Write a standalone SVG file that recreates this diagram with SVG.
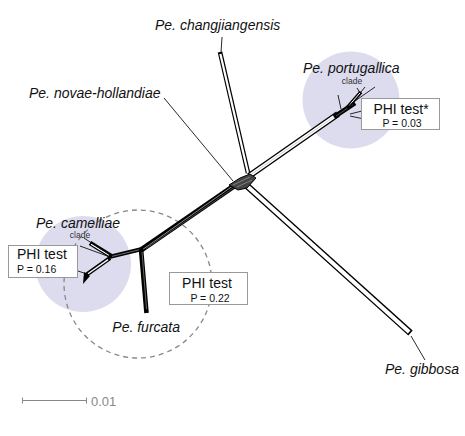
<svg xmlns="http://www.w3.org/2000/svg" width="465" height="436" viewBox="0 0 465 436">
<style>
.lbl{font-family:"Liberation Sans",Arial,sans-serif;font-style:italic;font-size:14px;fill:#111}
.clade{font-family:"Liberation Sans",Arial,sans-serif;font-size:8.5px;fill:#333;text-anchor:middle}
.phi{font-family:"Liberation Sans",Arial,sans-serif;font-size:14px;fill:#111}
.pv{font-family:"Liberation Sans",Arial,sans-serif;font-size:10.5px;fill:#111}
.box{fill:#fff;stroke:#999;stroke-width:1}
.clade-bg{fill:#dcdcee}
.thin{stroke:#111;stroke-width:0.9;fill:none}
.blk{stroke:#000;fill:none;stroke-linecap:butt}
.wht{stroke:#fff;fill:none;stroke-linecap:butt}
.lite{stroke:#bbb;fill:none;stroke-width:0.7}
</style>
<rect width="465" height="436" fill="#fff"/>

<g id="clade-portugallica-bg"><circle class="clade-bg" cx="351" cy="100" r="48.5"/></g>
<g id="clade-camelliae-bg"><circle class="clade-bg" cx="83" cy="264" r="48"/></g>
<g id="furcata-group"><circle cx="138" cy="284" r="74" fill="none" stroke="#888" stroke-width="1.3" stroke-dasharray="5 4"/></g>

<g id="connectors">
  <line class="thin" x1="222" y1="37" x2="221" y2="53"/>
  <line class="thin" x1="164" y1="98" x2="233" y2="181"/>
  <line class="thin" x1="411" y1="336" x2="425" y2="360"/>

  <line class="blk" x1="220" y1="52" x2="248" y2="173" stroke-width="4.6"/>
  <line class="wht" x1="220.4" y1="54" x2="248" y2="173" stroke-width="2.2"/>

  <line class="blk" x1="246" y1="185" x2="410.5" y2="333" stroke-width="6.6"/>
  <line class="wht" x1="246" y1="185" x2="409.2" y2="331.9" stroke-width="4"/>

  <line class="blk" x1="249" y1="176" x2="338" y2="114" stroke-width="6.2"/>
  <line class="wht" x1="249" y1="176" x2="338" y2="114" stroke-width="3.4"/>
  <line class="lite" x1="249" y1="176" x2="338" y2="114"/>

  <line class="blk" x1="234" y1="186" x2="141" y2="250" stroke-width="5.6"/>
  <line x1="232" y1="186.5" x2="143" y2="249.3" stroke="#ccc" stroke-width="0.7"/>
  <line x1="234" y1="187.6" x2="146" y2="248.6" stroke="#888" stroke-width="0.5"/>

  <polygon points="229,185 240,178 250,174 256,178 247,188 238,190" fill="#444" stroke="#000" stroke-width="1"/>
  <line x1="233" y1="185" x2="250" y2="177" stroke="#aaa" stroke-width="0.6"/>
  <line x1="237" y1="187" x2="252" y2="180" stroke="#aaa" stroke-width="0.6"/>

  <line class="blk" x1="141" y1="249" x2="146.5" y2="313" stroke-width="4.6"/>
  <line x1="142" y1="252" x2="146.5" y2="309" stroke="#aaa" stroke-width="0.6"/>

  <line class="blk" x1="142" y1="249" x2="109" y2="257" stroke-width="4.2"/>
  <line x1="139" y1="249.8" x2="112" y2="256.4" stroke="#bbb" stroke-width="0.6"/>

  <line class="blk" x1="111" y1="256" x2="90" y2="243" stroke-width="4.5"/>
  <line class="wht" x1="109" y1="255.3" x2="91" y2="244.2" stroke-width="1.2"/>
  <line class="thin" x1="110" y1="255" x2="84" y2="238"/>
  <line class="thin" x1="110" y1="257" x2="80" y2="246"/>
  <line class="blk" x1="110" y1="258" x2="86" y2="275" stroke-width="4"/>
  <line class="wht" x1="108" y1="259.6" x2="88" y2="273.8" stroke-width="1.3"/>
  <line class="thin" x1="87" y1="274" x2="78" y2="271"/>
  <polygon points="84,272 90,276 83,284" fill="#000"/>

  <line class="blk" x1="334" y1="117" x2="355" y2="103" stroke-width="4.6"/>
  <line x1="336" y1="116" x2="353" y2="104.5" stroke="#999" stroke-width="0.6"/>
  <line class="blk" x1="347" y1="108" x2="361" y2="92" stroke-width="3.6"/>
  <line class="wht" x1="349" y1="105.5" x2="360" y2="93" stroke-width="1"/>
  <line class="thin" x1="357" y1="88" x2="360" y2="93"/>
  <line class="thin" x1="365" y1="87" x2="361" y2="92"/>
  <line class="thin" x1="345" y1="108" x2="375" y2="87"/>
  <line class="thin" x1="338" y1="95" x2="341" y2="109"/>
  <line class="thin" x1="350" y1="114" x2="362" y2="111"/>
  <line class="thin" x1="350" y1="116" x2="364" y2="119"/>
</g>

<g id="node-changjiangensis"><text class="lbl" x="155" y="30">Pe. changjiangensis</text></g>
<g id="node-novae-hollandiae"><text class="lbl" x="29" y="98">Pe. novae-hollandiae</text></g>
<g id="node-portugallica">
  <text class="lbl" x="303" y="73">Pe. portugallica</text>
  <text class="clade" x="352" y="84">clade</text>
</g>
<g id="node-camelliae">
  <text class="lbl" x="36" y="228">Pe. camelliae</text>
  <text class="clade" x="80" y="238">clade</text>
</g>
<g id="node-furcata"><text class="lbl" x="180" y="332" text-anchor="end">Pe. furcata</text></g>
<g id="node-gibbosa"><text class="lbl" x="385" y="374">Pe. gibbosa</text></g>

<g id="phi-portugallica">
  <rect class="box" x="361.5" y="98.5" width="78" height="31"/>
  <text class="phi" x="401" y="114" text-anchor="middle">PHI test*</text>
  <text class="pv" x="402" y="127" text-anchor="middle">P = 0.03</text>
</g>
<g id="phi-camelliae">
  <rect class="box" x="8.5" y="245.5" width="69" height="32"/>
  <text class="phi" x="17" y="258.5">PHI test</text>
  <text class="pv" x="17" y="273">P = 0.16</text>
</g>
<g id="phi-furcata">
  <rect class="box" x="169.5" y="272.5" width="78" height="32"/>
  <text class="phi" x="207" y="288" text-anchor="middle">PHI test</text>
  <text class="pv" x="210" y="302" text-anchor="middle">P = 0.22</text>
</g>

<g id="scale-bar" stroke="#888" stroke-width="1">
  <line x1="22" y1="400.5" x2="87" y2="400.5"/>
  <line x1="22.5" y1="397.5" x2="22.5" y2="403.5"/>
  <line x1="86.5" y1="397.5" x2="86.5" y2="403.5"/>
  <text x="91" y="406" stroke="none" fill="#888" font-family="Liberation Sans, Arial, sans-serif" font-size="13">0.01</text>
</g>
</svg>
